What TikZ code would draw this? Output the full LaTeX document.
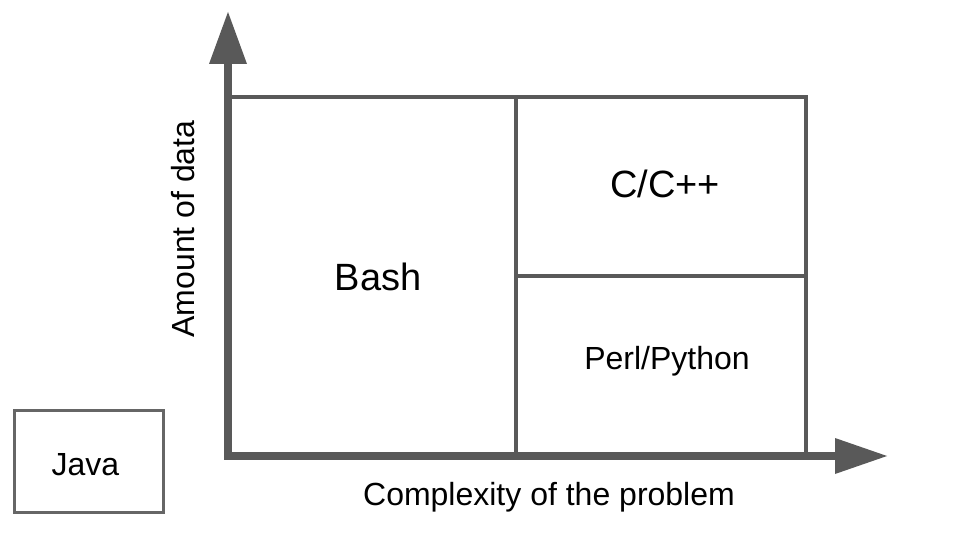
\documentclass[tikz,border=0pt]{standalone}
\usepackage{fontspec}
\setmainfont{Liberation Sans}
\definecolor{linegray}{HTML}{595959}
\definecolor{javagray}{HTML}{666666}
\tikzset{
  axisline/.style={draw=linegray, line width=8pt, line join=miter},
  axishead/.style={fill=linegray, draw=none},
  cellline/.style={draw=linegray, line width=4pt},
  lbl/.style={text=black, inner sep=0pt, font=\fontsize{32}{38}\selectfont},
  biglbl/.style={text=black, inner sep=0pt, font=\fontsize{38}{44}\selectfont},
  javabox/.style={draw=javagray, line width=3pt, fill=white, minimum width=149pt, minimum height=102pt, inner sep=0pt}
}
\begin{document}
\begin{tikzpicture}[x=1pt,y=-1pt]
\useasboundingbox[fill=white] (0,0) rectangle (960,540);
% grid cells
\coordinate (tl) at (228,97);
\coordinate (br) at (806,456);
\coordinate (midtop) at (516,97);
\coordinate (midbot) at (516,456);
\coordinate (midleft) at (516,276);
\coordinate (midright) at (806,276);
\draw[cellline] (tl) rectangle (br);
\draw[cellline] (midtop) -- (midbot);
\draw[cellline] (midleft) -- (midright);
% axes
\coordinate (origin) at (228,456);
\coordinate (ybase) at (228,64);
\coordinate (ytip) at (228,12);
\coordinate (xbase) at (835,456);
\coordinate (xtip) at (887,456);
\draw[axisline] (ybase) -- (origin) -- (xbase);
\fill[axishead] (ytip) -- ([xshift=-19pt]ybase) -- ([xshift=19pt]ybase) -- cycle;
\fill[axishead] (xtip) -- ([yshift=18pt]xbase) -- ([yshift=-18pt]xbase) -- cycle;
% labels
\node[biglbl] (bash) at (378,277) {Bash};
\node[biglbl] (cpp) at (665,184) {C/C++};
\node[lbl] (perl) at (667,361) {Perl/Python};
\node[lbl, rotate=90] (ylabel) at (183,229) {Amount of data};
\node[lbl] (xlabel) at (549,497) {Complexity of the problem};
\node[javabox] (java) at (88.5,461) {};
\node[lbl] (javatext) at (85.5,465) {Java};
\end{tikzpicture}
\end{document}
